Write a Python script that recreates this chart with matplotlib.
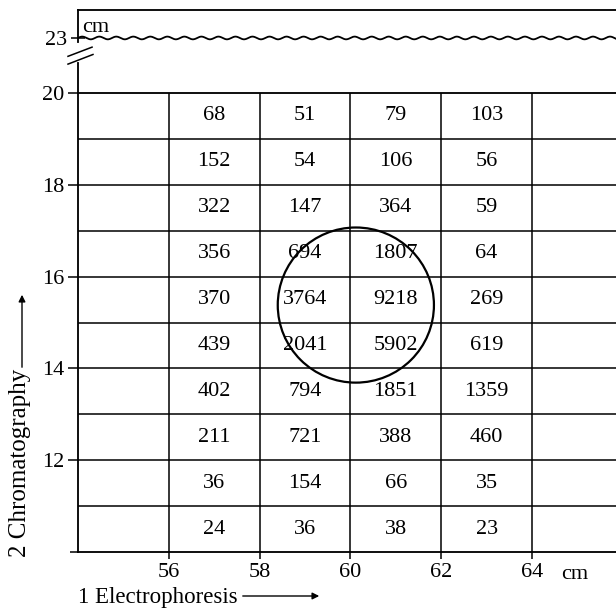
import numpy as np
import matplotlib
matplotlib.use("Agg")
import matplotlib.pyplot as plt
from matplotlib.patches import Ellipse
import matplotlib.transforms as mtransforms

plt.rcParams["font.family"] = ["Liberation Serif", "DejaVu Serif"]

# column centres (cm, electrophoresis) and row centres (cm, chromatography)
col_centres = [57, 59, 61, 63]
row_centres = [19.5, 18.5, 17.5, 16.5, 15.5, 14.5, 13.5, 12.5, 11.5, 10.5]
counts = [
    [68, 51, 79, 103],
    [152, 54, 106, 56],
    [322, 147, 364, 59],
    [356, 694, 1807, 64],
    [370, 3764, 9218, 269],
    [439, 2041, 5902, 619],
    [402, 794, 1851, 1359],
    [211, 721, 388, 460],
    [36, 154, 66, 35],
    [24, 36, 38, 23],
]
x_ticks = [56, 58, 60, 62, 64]
y_ticks = [12, 14, 16, 18, 20]
col_edges = [56, 58, 60, 62, 64]
row_edges = [11, 12, 13, 14, 15, 16, 17, 18, 19]

FS = 16
LW = 1.1

fig = plt.figure(figsize=(6.16, 6.14), dpi=100)
ax = fig.add_axes([0.1266, 0.101, 1 - 0.1266, 0.8485 - 0.101])
top = fig.add_axes([0.1266, 0.8485, 1 - 0.1266, 0.9845 - 0.8485])

# main grid
ax.set_xlim(54, 65.85)
ax.set_ylim(10, 20)
for y in row_edges:
    ax.axhline(y, color="black", lw=LW)
for x in col_edges:
    ax.axvline(x, color="black", lw=LW)
for s in ["left", "bottom", "top"]:
    ax.spines[s].set_linewidth(LW * 1.2)
ax.spines["right"].set_visible(False)

for r, yc in enumerate(row_centres):
    for c, xc in enumerate(col_centres):
        ax.text(xc, yc, str(counts[r][c]), ha="center", va="center", fontsize=FS)

# circle around the main spot
ax.add_patch(Ellipse((60.12, 15.38), 3.44, 3.38, fill=False, lw=1.6, color="black"))

ax.set_xticks(x_ticks)
ax.set_yticks(y_ticks)
ax.set_yticks([10], minor=True)
ax.tick_params(axis="y", which="major", direction="out", length=7, width=LW, labelsize=FS, pad=3)
ax.tick_params(axis="y", which="minor", direction="out", length=6, width=LW)
ax.tick_params(axis="x", direction="out", length=5, width=LW, labelsize=FS, pad=3)
ax.text(64.94, -0.028, "cm", transform=mtransforms.blended_transform_factory(ax.transData, ax.transAxes),
        ha="center", va="top", fontsize=FS)

# axis labels with arrows
fig.text(78 / 616, 1 - 597 / 614, "1 Electrophoresis", ha="left", va="center", fontsize=16.5)
ax.annotate("", xy=(322 / 616, 1 - 596 / 614), xytext=(240 / 616, 1 - 596 / 614),
            xycoords="figure fraction", textcoords="figure fraction",
            arrowprops=dict(arrowstyle="-|>", color="black", lw=1.0, mutation_scale=10))
fig.text(20 / 616, 1 - 463 / 614, "2 Chromatography", rotation=90, ha="center", va="center", fontsize=18)
ax.annotate("", xy=(22 / 616, 1 - 292 / 614), xytext=(22 / 616, 1 - 370 / 614),
            xycoords="figure fraction", textcoords="figure fraction",
            arrowprops=dict(arrowstyle="-|>", color="black", lw=1.0, mutation_scale=10))

# top (broken) section
top.set_xlim(54, 65.85)
top.set_ylim(21.80, 23.62)
top.patch.set_visible(False)
for s in ["left", "right", "bottom"]:
    top.spines[s].set_visible(False)
top.spines["top"].set_linewidth(LW * 1.2)
top.set_xticks([])
top.set_yticks([23])
top.set_yticklabels(["23"])
top.tick_params(axis="y", direction="inout", length=10, width=LW, labelsize=FS, pad=3)
top.plot([54, 54], [23.62, 22.91], color="black", lw=LW * 1.2, clip_on=False)
top.plot([54, 54], [22.46, 21.80], color="black", lw=LW * 1.2, clip_on=False)
top.plot([53.78, 54.31], [22.60, 22.80], color="black", lw=1.1, clip_on=False)
top.plot([53.78, 54.33], [22.43, 22.64], color="black", lw=1.1, clip_on=False)

wx = np.linspace(54, 65.85, 1200)
wy = 23 + 0.03 * np.sin(2 * np.pi * (wx - 54) / 0.375)
top.plot(wx, wy, color="black", lw=1.3)
top.text(54.1, 23.22, "cm", ha="left", va="center", fontsize=FS)

fig.savefig("out.png", dpi=100)
